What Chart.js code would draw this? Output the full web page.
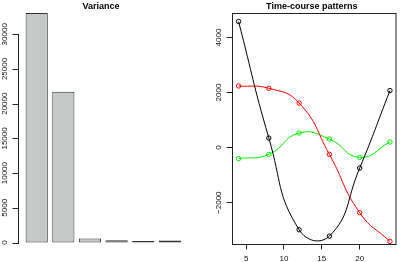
<!DOCTYPE html>
<html><head><meta charset="utf-8">
<script src="https://cdn.jsdelivr.net/npm/chart.js@4/dist/chart.umd.min.js"></script>
<style>
html,body{margin:0;padding:0;background:#fff;}
#wrap{position:relative;width:401px;height:262px;overflow:hidden;background:#fff;}
#c1{position:absolute;left:0;top:0;}
#c2{position:absolute;left:200px;top:0;}
</style></head><body>
<div id="wrap">
<canvas id="c1" width="200" height="262"></canvas>
<canvas id="c2" width="201" height="262"></canvas>
</div>
<script>
// ---- data ----
const varianceTitle = 'Variance';
const varianceCategories = ['1', '2', '3', '4', '5', '6'];
const varianceValues = [33070, 21730, 580, 310, 210, 300];
const varianceTickValues = [0, 5000, 10000, 15000, 20000, 25000, 30000];
const varianceTickLabels = ['0', '5000', '10000', '15000', '20000', '25000', '30000'];

const patternTitle = 'Time-course patterns';
const timePoints = [4, 8, 12, 16, 20, 24];
const patternBlack = [4582, 349, -2982, -3214, -742, 2073];
const patternRed = [2240, 2156, 1622, -244, -2363, -3407];
const patternGreen = [-400, -244, 531, 313, -353, 204];
const timeTickValues = [5, 10, 15, 20];
const timeTickLabels = ['5', '10', '15', '20'];
const patternTickValues = [-2000, 0, 2000, 4000];
const patternTickLabels = ['\u22122000', '0', '2000', '4000'];

// ---- styling ----
const FAMILY = "'Liberation Sans', Arial, Helvetica, sans-serif";
Chart.defaults.font.family = FAMILY;
Chart.defaults.color = '#111';
Chart.defaults.animation = false;
const TICK_FONT = '8px ' + FAMILY;
const TITLE_FONT = 'bold 9px ' + FAMILY;
const AXIS_COLOR = '#222';

function setTicks(values) {
  return function (scale) { scale.ticks = values.map(v => ({ value: v })); };
}

// R-style decorations: axis line / box, tick marks, rotated y tick labels, title
function rDecor(opts) {
  return {
    id: 'rDecor',
    afterDraw(chart) {
      const ctx = chart.ctx;
      const a = chart.chartArea;
      const ys = chart.scales.y;
      ctx.save();
      ctx.strokeStyle = AXIS_COLOR;
      ctx.lineWidth = 1;
      if (opts.box) {
        ctx.strokeRect(a.left, a.top, a.right - a.left, a.bottom - a.top);
      }
      if (opts.axisX !== undefined) {
        const y0 = Math.round(ys.getPixelForValue(opts.tickValues[0])) + 0.5;
        const y1 = Math.round(ys.getPixelForValue(opts.tickValues[opts.tickValues.length - 1])) + 0.5;
        ctx.beginPath();
        ctx.moveTo(opts.axisX, y0 + 0.5);
        ctx.lineTo(opts.axisX, y1 - 0.5);
        opts.tickValues.forEach(v => {
          const y = Math.round(ys.getPixelForValue(v)) + 0.5;
          ctx.moveTo(opts.axisX - opts.tickLen, y);
          ctx.lineTo(opts.axisX + 0.5, y);
        });
        ctx.stroke();
      }
      ctx.fillStyle = '#111';
      ctx.font = TICK_FONT;
      ctx.textAlign = 'center';
      ctx.textBaseline = 'middle';
      opts.tickValues.forEach((v, i) => {
        const y = ys.getPixelForValue(v);
        ctx.save();
        ctx.translate(opts.labelX, y);
        ctx.rotate(-Math.PI / 2);
        ctx.fillText(opts.tickLabels[i], 0, 0);
        ctx.restore();
      });
      ctx.fillStyle = '#000';
      ctx.font = TITLE_FONT;
      ctx.textBaseline = 'alphabetic';
      ctx.fillText(opts.title, opts.titleX, opts.titleY);
      ctx.restore();
    }
  };
}

// ---- left: variance bars ----
new Chart(document.getElementById('c1'), {
  type: 'bar',
  data: {
    labels: varianceCategories,
    datasets: [{
      data: varianceValues,
      backgroundColor: '#c4c9c7',
      borderColor: '#333',
      borderWidth: 1,
      borderSkipped: false,
      categoryPercentage: 1,
      barPercentage: 0.833
    }]
  },
  options: {
    responsive: false,
    devicePixelRatio: 1,
    layout: { padding: { left: 0, right: 16.8, top: 3.8, bottom: 10.3 } },
    plugins: { legend: { display: false }, tooltip: { enabled: false } },
    scales: {
      x: { type: 'category', offset: true, display: false },
      y: {
        min: -1323, max: 34392,
        afterBuildTicks: setTicks(varianceTickValues),
        afterFit(s) { s.width = 23.4; },
        ticks: { display: false },
        grid: { display: false },
        border: { display: false }
      }
    }
  },
  plugins: [rDecor({
    tickValues: varianceTickValues, tickLabels: varianceTickLabels,
    axisX: 18.5, tickLen: 6, labelX: 4.5,
    box: false, title: varianceTitle, titleX: 101, titleY: 8.5
  })]
});

// ---- right: time-course patterns ----
function series(values, color) {
  return {
    data: values.map((v, i) => ({ x: timePoints[i], y: v })),
    borderColor: color,
    borderWidth: 1,
    pointRadius: 2.2,
    pointBorderWidth: 1,
    pointBorderColor: color,
    pointBackgroundColor: 'rgba(0,0,0,0)',
    tension: 0.5,
    fill: false
  };
}

new Chart(document.getElementById('c2'), {
  type: 'line',
  data: {
    datasets: [
      series(patternBlack, '#000000'),
      series(patternRed, '#ff0000'),
      series(patternGreen, '#00ee00')
    ]
  },
  options: {
    responsive: false,
    devicePixelRatio: 1,
    layout: { padding: { left: 0, right: 0.5, top: 13.5, bottom: 0 } },
    plugins: { legend: { display: false }, tooltip: { enabled: false } },
    scales: {
      x: {
        type: 'linear', position: 'bottom', min: 3.2, max: 24.8,
        afterBuildTicks: setTicks(timeTickValues),
        afterFit(s) { s.height = 17.5; },
        ticks: {
          font: { size: 8 }, color: '#111', padding: 4.5, maxRotation: 0, autoSkip: false,
          callback: (v, i) => timeTickLabels[i]
        },
        grid: { drawOnChartArea: false, drawTicks: true, tickLength: 5, color: AXIS_COLOR },
        border: { display: false }
      },
      y: {
        type: 'linear', min: -3518, max: 4872,
        afterBuildTicks: setTicks(patternTickValues),
        afterFit(s) { s.width = 32.5; },
        ticks: { display: false },
        grid: { drawOnChartArea: false, drawTicks: true, tickLength: 6, color: AXIS_COLOR },
        border: { display: false }
      }
    }
  },
  plugins: [rDecor({
    tickValues: patternTickValues, tickLabels: patternTickLabels,
    labelX: 18.3, box: true, title: patternTitle, titleX: 111.8, titleY: 8.5
  })]
});
</script>
</body></html>
